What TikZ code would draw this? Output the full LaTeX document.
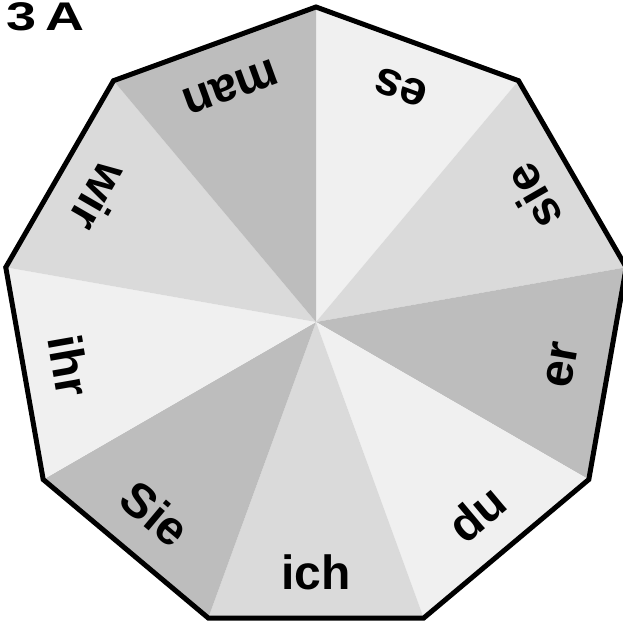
\documentclass[tikz,border=0pt]{standalone}
\usepackage{fontspec}
\setmainfont{Liberation Sans}
\definecolor{segpale}{HTML}{F0F0F0}
\definecolor{segmid}{HTML}{DADADA}
\definecolor{segdark}{HTML}{BDBDBD}

\begin{document}
\begin{tikzpicture}[x=1pt,y=1pt,
    word/.style={font=\fontsize{48}{50}\selectfont\bfseries, inner sep=0pt}]
\useasboundingbox (-316,-299) rectangle (307,322);

% Title, wide bold figures
\node[anchor=base west, inner sep=0pt, xscale=1.35, font=\fontsize{40}{42}\selectfont\bfseries]
  (title) at (-310,291) {3\,A};

% Centre of the nonagon
\coordinate (O) at (0,0);

% Sectors, clockwise from the top vertex
\foreach \a/\c in {90/segpale, 50/segmid, 10/segdark, -30/segpale, -70/segmid,
                   -110/segdark, -150/segpale, -190/segmid, -230/segdark}
  \fill[\c] (O) -- (\a:315) -- (\a-40:315) -- cycle;

% Outline
\draw[line width=5pt] (90:315) \foreach \a in {50,10,...,-230} { -- (\a:315) } -- cycle;

% Pronouns, letters facing the centre
\foreach \w/\a in {es/70, sie/30, er/-10, du/-50, ich/-90, Sie/-130, ihr/-170, wir/150, man/110}
  \node[word, rotate=\a+90] (w-\w) at (\a:250) {\w};

\end{tikzpicture}
\end{document}
